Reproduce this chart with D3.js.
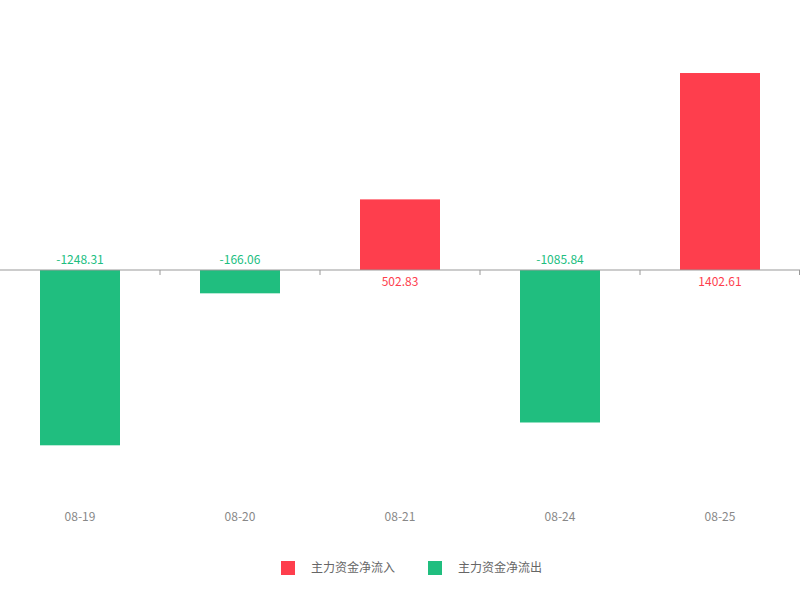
<!DOCTYPE html>
<html><head><meta charset="utf-8">
<script src="https://d3js.org/d3.v7.min.js"></script>
<style>body{margin:0;background:#fff}</style>
</head><body>
<svg id="c" width="800" height="600"></svg>
<script>
const categories = ["08-19","08-20","08-21","08-24","08-25"];
const values = [-1248.31,-166.06,502.83,-1085.84,1402.61];
const legendLabels = ["主力资金净流入","主力资金净流出"];
const RED="#fe3e4d", GREEN="#20be7f";
const svg=d3.select("#c");
const font="'Noto Sans CJK SC','Noto Sans',sans-serif";
const x=d3.scaleBand().domain(categories).range([0,800]);
const y=d3.scaleLinear().domain([-1600,1600]).range([494.7,45.3]);
svg.selectAll("rect.bar").data(values).join("rect").attr("class","bar")
 .attr("x",(d,i)=>x(categories[i])+x.bandwidth()/4).attr("width",x.bandwidth()/2)
 .attr("y",d=>y(Math.max(0,d))).attr("height",d=>Math.abs(y(d)-y(0)))
 .attr("fill",d=>d>=0?RED:GREEN);
svg.append("line").attr("x1",0).attr("x2",800).attr("y1",y(0)).attr("y2",y(0)).attr("stroke","#999");
x.domain().forEach((c,i)=>{ if(i>0) svg.append("line").attr("x1",x(c)).attr("x2",x(c)).attr("y1",y(0)).attr("y2",y(0)+5).attr("stroke","#999");});
svg.append("line").attr("x1",799.5).attr("x2",799.5).attr("y1",y(0)).attr("y2",y(0)+5).attr("stroke","#999");
svg.selectAll("text.v").data(values).join("text").attr("class","v")
 .attr("x",(d,i)=>x(categories[i])+x.bandwidth()/2).attr("y",d=>d<0?y(0)-6:y(0)+16)
 .attr("text-anchor","middle").attr("font-size",12).attr("font-family",font)
 .attr("fill",d=>d>=0?RED:GREEN).text(d=>d.toFixed(2));
svg.selectAll("text.cat").data(categories).join("text").attr("class","cat")
 .attr("x",d=>x(d)+x.bandwidth()/2).attr("y",521).attr("text-anchor","middle")
 .attr("font-size",12).attr("font-family",font).attr("fill","#888").text(d=>d);
const lx=[281,428];
legendLabels.forEach((t,i)=>{
 svg.append("rect").attr("x",lx[i]).attr("y",561).attr("width",14).attr("height",14).attr("fill",i==0?RED:GREEN);
 svg.append("text").attr("x",lx[i]+30).attr("y",572).attr("font-size",12).attr("font-family",font).attr("fill","#666").text(t);
});
</script></body></html>
